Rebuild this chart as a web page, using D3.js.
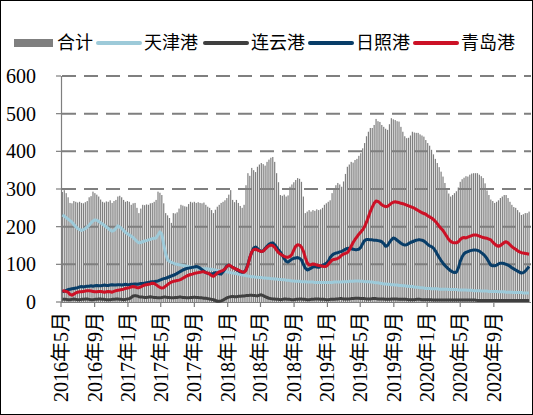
<!DOCTYPE html>
<html>
<head>
<meta charset="utf-8">
<script src="https://cdn.jsdelivr.net/npm/d3@7"></script>
<style>
  body { margin: 0; background: #fff; }
  svg { display: block; }
</style>
</head>
<body>
<script>
// weekly series, first week 2016-05-06
const startDate = new Date(2016, 4, 6);

const tickLabels = ["2016年5月", "2016年9月", "2017年1月", "2017年5月", "2017年9月", "2018年1月", "2018年5月",
  "2018年9月", "2019年1月", "2019年5月", "2019年9月", "2020年1月", "2020年5月", "2020年9月"];
const yTicks = [0, 100, 200, 300, 400, 500, 600];

const total = [
  292,297,289,278,263,262,268,266,264,266, 263,262,265,268,278,281,293,289,285,280,
  272,266,264,267,266,270,263,268,271,280, 282,278,271,266,268,266,258,262,263,250,
  236,248,258,257,259,258,262,263,266,271, 293,290,284,262,236,230,223,210,236,235,
  238,248,258,256,254,253,260,266,264,266, 263,265,263,262,264,258,253,250,244,236,
  245,253,258,263,266,270,276,285,297,271, 265,271,263,255,250,258,310,342,335,356,
  350,345,359,365,369,366,362,372,378,383, 385,372,342,318,284,282,285,280,283,306,
  312,318,324,329,327,319,280,236,240,244, 240,244,242,246,244,246,250,258,262,266,
  270,289,298,310,316,312,306,320,340,359, 365,372,370,377,380,388,395,408,422,440,
  452,462,462,470,486,480,478,470,465,460, 457,472,488,485,483,480,479,465,452,440,
  435,436,442,452,450,449,449,445,442,439, 430,422,415,404,392,380,369,358,346,333,
  316,297,288,280,284,289,294,304,319,326, 330,334,333,338,341,342,342,342,338,334,
  329,315,296,284,272,268,263,266,270,276, 280,284,284,276,266,258,252,250,244,238,
  231,233,236,236,240
];

const tianjin = [
  231,228,224,220,216,212,206,200,195,192, 190,192,195,199,204,210,215,218,217,214,
  210,207,203,199,195,191,188,190,196,202, 199,195,190,185,181,178,175,171,166,161,
  157,158,160,162,163,165,166,168,169,170, 178,186,180,152,128,112,108,105,103,101,
  100,99,98,97,96,95,94,93,92,91, 90,90,89,89,88,88,88,87,87,86,
  85,84,83,82,82,81,80,79,78,77, 76,75,74,73,72,71,70,69,68,67,
  67,66,66,65,65,64,64,63,63,62, 62,61,61,60,60,59,59,58,58,57,
  56,56,55,55,55,54,54,54,53,53, 53,53,52,52,52,52,52,52,52,52,
  52,52,53,53,53,53,53,54,54,54, 55,55,55,56,56,56,55,55,54,54,
  54,53,53,52,51,51,50,49,48,48, 47,47,46,46,45,45,44,44,43,43,
  42,42,41,41,40,39,39,38,38,37, 36,36,36,35,35,35,35,34,34,34,
  34,34,33,33,33,33,33,32,32,32, 32,32,31,31,31,30,30,30,30,29,
  29,29,29,28,28,28,28,28,27,27, 27,27,26,26,26,26,25,25,25,25,
  25,24,24,24,24
];

const lianyungang = [
  8,7,7,6,6,7,8,7,6,6, 7,7,8,8,7,6,6,7,7,8,
  8,7,7,6,6,6,7,7,8,8, 7,7,6,7,8,9,12,16,17,16,
  14,13,13,12,12,13,14,13,12,12, 11,11,12,13,13,12,12,11,11,12,
  12,13,13,12,12,11,11,12,12,13, 12,12,11,11,10,10,9,8,7,6,
  4,2,2,3,5,8,11,13,14,15, 14,14,15,15,16,16,17,17,18,18,
  17,17,16,18,19,17,14,12,10,9, 8,8,7,7,6,7,8,8,7,7,
  6,6,7,7,8,8,7,7,6,6, 7,7,8,8,8,7,7,7,6,6,
  7,7,7,8,8,9,9,8,8,8, 8,9,9,10,10,10,9,9,9,8,
  8,8,9,9,9,8,8,8,8,7, 7,7,8,8,8,8,7,7,7,7,
  7,6,6,6,6,7,7,7,6,6, 6,6,6,6,5,5,5,5,5,5,
  5,5,5,5,5,5,5,5,5,5, 5,5,5,5,5,5,5,4,4,4,
  4,4,4,4,4,4,4,4,4,4, 4,4,4,4,4,4,4,4,4,4,
  4,4,4,4,4
];

const rizhao = [
  27,29,31,33,34,35,36,37,38,40, 41,40,41,42,42,43,42,43,44,43,
  43,44,45,44,44,45,46,45,45,46, 46,45,46,47,46,46,47,47,48,47,
  48,49,49,50,51,52,53,54,54,55, 56,58,60,62,63,65,67,69,71,73,
  76,79,82,85,87,89,90,91,92,93, 94,93,90,86,82,78,76,75,74,76,
  78,77,75,74,80,88,96,98,95,92, 90,86,83,80,79,80,86,100,118,132,
  143,146,142,137,134,136,142,148,153,156, 157,152,145,138,132,124,115,108,106,110,
  114,116,117,118,116,112,100,90,85,87, 90,93,94,93,92,95,98,100,103,108,
  118,124,128,130,131,133,134,137,140,142, 143,142,140,139,139,140,145,155,163,166,
  166,165,165,164,164,163,162,160,155,148, 150,158,165,170,168,164,160,156,153,151,
  152,155,158,160,162,164,165,165,164,162, 158,153,149,147,143,136,127,118,110,103,
  97,92,87,83,80,78,79,90,108,120, 128,132,134,136,137,138,138,137,135,131,
  127,122,115,106,98,96,96,98,101,103, 103,102,100,98,95,91,88,85,82,79,
  77,78,82,88,94
];

const qingdao = [
  30,29,28,26,20,18,21,24,26,27, 27,28,29,30,30,29,28,27,27,28,
  28,27,26,27,28,27,26,28,30,31, 32,33,34,36,37,38,40,41,40,38,
  38,40,43,45,46,47,48,50,49,46, 42,39,37,38,42,46,50,53,55,56,
  57,58,60,63,66,69,71,73,74,76, 77,78,79,80,80,78,77,74,70,68,
  72,77,80,82,84,88,94,98,96,92, 89,87,85,82,80,79,84,98,118,133,
  139,140,138,136,134,135,140,145,149,151, 150,145,138,131,127,124,121,119,119,121,
  126,138,148,152,151,146,135,118,104,98, 99,101,100,98,97,96,95,94,95,100,
  106,111,113,114,116,119,124,127,129,131, 138,148,158,166,173,180,186,192,200,212,
  226,240,252,262,268,267,263,258,255,253, 254,258,262,265,266,265,264,262,261,259,
  257,255,253,251,249,246,243,240,237,235, 233,229,226,223,219,214,208,201,195,190,
  182,174,166,161,158,157,157,160,166,170, 171,170,172,174,176,178,178,177,175,173,
  171,170,169,167,165,159,154,150,148,150, 154,158,160,157,152,147,143,140,136,133,
  131,130,129,128,127
];

const lineSeries = [
  { name: "天津港", values: tianjin, color: "#9DCAD9" },
  { name: "连云港", values: lianyungang, color: "#3F3F3F" },
  { name: "日照港", values: rizhao, color: "#083D68" },
  { name: "青岛港", values: qingdao, color: "#CC1126" }
];

const W = 533, H = 415;
const mLeft = 61, mRight = 531, mTop = 76, mBottom = 302;
const grey = "#7F7F7F";

const dates = total.map((d, i) => d3.timeDay.offset(startDate, i * 7));

const x = d3.scaleTime()
  .domain([new Date(2016, 4, 1), new Date(2021, 0, 15)])
  .range([mLeft, mRight]);
const y = d3.scaleLinear().domain([0, 600]).range([mBottom, mTop]);

const svg = d3.select("body").append("svg")
  .attr("width", W)
  .attr("height", H);

svg.append("rect")
  .attr("x", 0.5).attr("y", 0.5)
  .attr("width", W - 1).attr("height", H - 1)
  .attr("fill", "#fff").attr("stroke", "#000");

// dashed grid
svg.append("g").selectAll("line")
  .data(yTicks.filter(d => d > 0))
  .join("line")
  .attr("x1", mLeft + 1).attr("x2", mRight)
  .attr("y1", d => y(d)).attr("y2", d => y(d))
  .attr("stroke", grey).attr("stroke-width", 2)
  .attr("stroke-dasharray", "14,8");

// bars for the total
svg.append("g").selectAll("rect")
  .data(total)
  .join("rect")
  .attr("x", (d, i) => x(dates[i]) - 0.6)
  .attr("width", 1.2)
  .attr("y", d => y(d))
  .attr("height", d => y(0) - y(d))
  .attr("fill", grey);

// axes
const yAxis = svg.append("g");
yAxis.append("line")
  .attr("x1", mLeft + 0.5).attr("x2", mLeft + 0.5)
  .attr("y1", mTop).attr("y2", mBottom)
  .attr("stroke", grey).attr("stroke-width", 1.2);
yAxis.selectAll(".tk")
  .data(yTicks)
  .join("line")
  .attr("x1", mLeft - 5).attr("x2", mLeft)
  .attr("y1", d => y(d)).attr("y2", d => y(d))
  .attr("stroke", grey).attr("stroke-width", 1.2);
yAxis.selectAll("text")
  .data(yTicks)
  .join("text")
  .attr("x", 36)
  .attr("y", d => y(d))
  .attr("dy", "0.35em")
  .attr("text-anchor", "end")
  .attr("font-family", "'Liberation Serif', serif")
  .attr("font-size", 20)
  .text(d => d);

const tickDates = tickLabels.map(s => {
  const m = s.match(/(\d+)年(\d+)月/);
  return new Date(+m[1], +m[2] - 1, 1);
});

const xAxis = svg.append("g");
xAxis.append("line")
  .attr("x1", mLeft).attr("x2", mRight)
  .attr("y1", mBottom + 0.5).attr("y2", mBottom + 0.5)
  .attr("stroke", grey).attr("stroke-width", 1.2);
xAxis.selectAll(".tk")
  .data(tickDates)
  .join("line")
  .attr("x1", d => x(d)).attr("x2", d => x(d))
  .attr("y1", mBottom).attr("y2", mBottom + 5)
  .attr("stroke", grey).attr("stroke-width", 1.2);
xAxis.selectAll("text")
  .data(tickLabels)
  .join("text")
  .attr("transform", (d, i) => `translate(${x(tickDates[i])},${mBottom + 10}) rotate(-90)`)
  .attr("dy", "0.35em")
  .attr("text-anchor", "end")
  .attr("font-family", "'Liberation Serif', 'Noto Sans CJK SC', serif")
  .attr("font-size", 20)
  .text(d => d);

// lines
const line = d3.line()
  .x((d, i) => x(dates[i]))
  .y(d => y(d));

svg.append("g").selectAll("path")
  .data(lineSeries)
  .join("path")
  .attr("d", d => line(d.values))
  .attr("fill", "none")
  .attr("stroke", d => d.color)
  .attr("stroke-width", 3)
  .attr("stroke-linejoin", "round");

// legend
const legend = svg.append("g").attr("transform", "translate(0,43)");
legend.append("rect")
  .attr("x", 14).attr("y", -4)
  .attr("width", 39).attr("height", 8)
  .attr("fill", grey);
legend.append("text")
  .attr("x", 57).attr("dy", "0.35em")
  .attr("font-family", "'Noto Sans CJK SC', sans-serif")
  .attr("font-size", 18)
  .text("合计");
const legendX = [98, 205, 310, 415];
lineSeries.forEach((s, i) => {
  legend.append("line")
    .attr("x1", legendX[i]).attr("x2", legendX[i] + 42)
    .attr("stroke", s.color).attr("stroke-width", 4)
    .attr("stroke-linecap", "round");
  legend.append("text")
    .attr("x", legendX[i] + 46).attr("dy", "0.35em")
    .attr("font-family", "'Noto Sans CJK SC', sans-serif")
    .attr("font-size", 18)
    .text(s.name);
});
</script>
</body>
</html>
